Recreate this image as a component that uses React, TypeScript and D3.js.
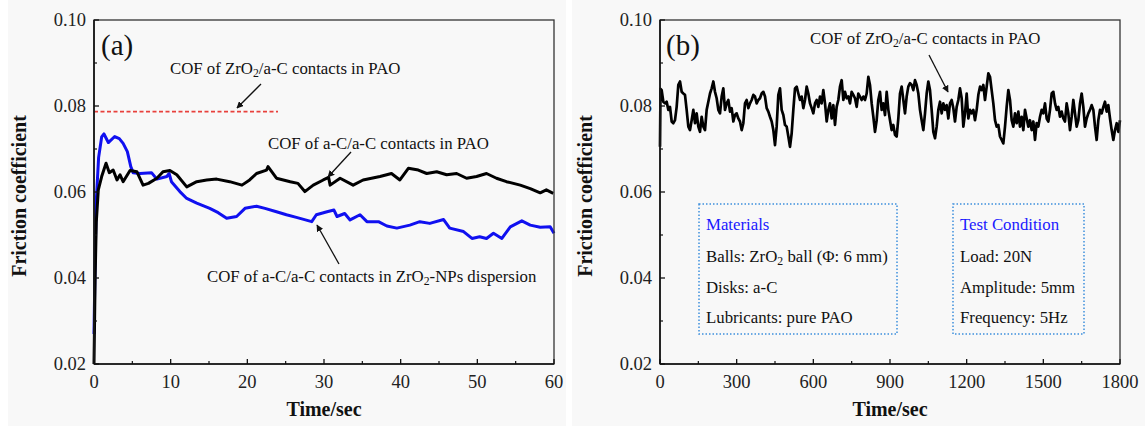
import React, { useRef, useEffect } from 'react';
import * as d3 from 'd3';

// (a) COF of a-C/a-C in ZrO2-NPs dispersion (blue), [time s, cof]
const blueSeries: [number, number][] = [
  [0, 0.027], [0.15, 0.045], [0.3, 0.058], [0.6, 0.068], [1.0, 0.0728], [1.3, 0.0735],
  [1.87, 0.0715], [2.7, 0.0729], [3.3, 0.0724], [3.8, 0.0713], [4.35, 0.0694], [4.8, 0.0659],
  [5.1, 0.0645], [6.0, 0.0643], [7.5, 0.0645], [8.2, 0.063], [9.5, 0.0636], [9.8, 0.0643],
  [10.1, 0.0624], [11.2, 0.0601], [12.1, 0.0585], [13.4, 0.0574], [15.1, 0.0562], [16.2, 0.0552],
  [17.3, 0.0539], [18.6, 0.0543], [19.7, 0.0562], [21.2, 0.0567], [22.3, 0.0562], [23.8, 0.0554],
  [25.1, 0.0547], [26.4, 0.0541], [28.4, 0.0531], [29.0, 0.0547], [30.4, 0.0554], [31.3, 0.0558],
  [31.7, 0.0543], [32.7, 0.055], [33.4, 0.0535], [34.7, 0.0547], [35.6, 0.0531], [37.1, 0.0531],
  [38.2, 0.0521], [39.5, 0.0516], [41.2, 0.0523], [42.5, 0.0531], [43.8, 0.0527], [45.6, 0.0536],
  [46.4, 0.0516], [48.2, 0.0508], [49.3, 0.0492], [50.3, 0.0496], [51.2, 0.0492], [52.1, 0.0504],
  [53.2, 0.0492], [54.3, 0.0519], [55.8, 0.0533], [56.9, 0.0523], [58.2, 0.0518], [59.5, 0.0519],
  [60, 0.0504],
];

// (a) COF of a-C/a-C in PAO (black)
const blackSeries: [number, number][] = [
  [0, 0.02], [0.15, 0.04], [0.3, 0.053], [0.56, 0.0605], [1.0, 0.0636], [1.57, 0.0667],
  [2.0, 0.0645], [2.5, 0.0651], [3.0, 0.0628], [3.4, 0.064], [3.8, 0.0624], [4.7, 0.065],
  [5.6, 0.0647], [6.4, 0.0616], [7.1, 0.062], [8.2, 0.0632], [9.0, 0.0647], [9.9, 0.065],
  [10.8, 0.064], [12.1, 0.0612], [13.4, 0.0624], [14.7, 0.0628], [16.0, 0.063], [17.7, 0.0624],
  [19.3, 0.0616], [20.3, 0.0628], [21.2, 0.0643], [22.5, 0.0651], [22.7, 0.0659], [23.8, 0.0632],
  [25.6, 0.0624], [26.6, 0.062], [27.5, 0.0601], [28.6, 0.0616], [29.9, 0.0628], [30.6, 0.0634],
  [30.8, 0.0616], [32.1, 0.0632], [33.8, 0.0616], [35.1, 0.0628], [37.3, 0.0636], [38.8, 0.0643],
  [39.9, 0.0628], [41.0, 0.0655], [42.3, 0.0651], [43.4, 0.0643], [44.7, 0.0647], [46.0, 0.064],
  [47.3, 0.0643], [48.6, 0.0632], [49.9, 0.0636], [51.2, 0.0643], [52.5, 0.0632], [53.8, 0.0624],
  [55.6, 0.0616], [56.9, 0.0608], [58.2, 0.0598], [59.0, 0.0605], [59.9, 0.0597],
];

// (a) reference level of ZrO2/a-C in PAO (red dashed)
const zro2Level = 0.0787;
const zro2LevelEnd = 24;

// (b) COF of ZrO2/a-C in PAO over 1800 s
const longSeries: [number, number][] = [
  [0, 0.0705], [2, 0.084], [6.5, 0.0837], [13, 0.081], [19.6, 0.0806], [26.1, 0.081], [32.6, 0.0791],
  [39.1, 0.0798], [45.7, 0.0764], [52.2, 0.076], [58.7, 0.0767], [65.2, 0.0798], [71.7, 0.0849],
  [78.3, 0.0857], [84.8, 0.0833], [91.3, 0.0829], [97.8, 0.0826], [104.3, 0.0791], [110.9, 0.0752],
  [117.4, 0.0744], [123.9, 0.0767], [130.4, 0.0791], [137, 0.076], [143.5, 0.0783], [150, 0.0752],
  [156.5, 0.074], [163, 0.0775], [169.6, 0.0752], [176.1, 0.0744], [182.6, 0.0791], [189.1, 0.081],
  [195.7, 0.0829], [202.2, 0.0841], [208.7, 0.0857], [215.2, 0.0833], [221.7, 0.0818], [228.3, 0.0791],
  [234.8, 0.0783], [241.3, 0.0822], [247.8, 0.0841], [254.3, 0.0791], [260.9, 0.0806], [267.4, 0.0814],
  [273.9, 0.0787], [280.4, 0.0795], [287, 0.0764], [293.5, 0.0779], [300, 0.0783], [306.5, 0.0771],
  [313, 0.0764], [319.6, 0.0744], [326.1, 0.076], [332.6, 0.0806], [339.1, 0.0814], [345.7, 0.0795],
  [352.2, 0.0806], [358.7, 0.0814], [365.2, 0.0826], [371.7, 0.0822], [378.3, 0.0806], [384.8, 0.0814],
  [391.3, 0.0818], [397.8, 0.0829], [404.3, 0.0833], [410.9, 0.0822], [417.4, 0.0795], [423.9, 0.0787],
  [430.4, 0.0775], [437, 0.0764], [443.5, 0.0744], [450, 0.0709], [456.5, 0.0752], [463, 0.0826],
  [469.6, 0.0841], [476.1, 0.0791], [482.6, 0.0779], [489.1, 0.0756], [495.7, 0.0752], [502.2, 0.0729],
  [508.7, 0.0705], [515.2, 0.0736], [521.7, 0.0791], [528.3, 0.0841], [534.8, 0.0845], [541.3, 0.0829],
  [547.8, 0.0814], [554.3, 0.0822], [560.9, 0.0795], [567.4, 0.0814], [573.9, 0.0845], [580.4, 0.0829],
  [587, 0.0806], [593.5, 0.0795], [600, 0.0783], [606.5, 0.0806], [613, 0.0814], [619.6, 0.0798],
  [626.1, 0.0822], [632.6, 0.0806], [639.1, 0.0837], [645.7, 0.0806], [652.2, 0.0764], [658.7, 0.0791],
  [665.2, 0.0806], [671.7, 0.0771], [678.3, 0.0802], [684.8, 0.0756], [691.3, 0.0798], [697.8, 0.0814],
  [704.3, 0.0845], [710.9, 0.086], [717.4, 0.0814], [723.9, 0.0833], [730.4, 0.0818], [737, 0.0822],
  [743.5, 0.0806], [750, 0.0833], [756.5, 0.0826], [763, 0.0818], [769.6, 0.0798], [776.1, 0.0829],
  [782.6, 0.0822], [789.1, 0.0814], [795.7, 0.0822], [802.2, 0.0814], [808.7, 0.0829], [815.2, 0.0868],
  [821.7, 0.0849], [828.3, 0.0806], [834.8, 0.0775], [841.3, 0.074], [847.8, 0.0767], [854.3, 0.0814],
  [860.9, 0.0833], [867.4, 0.0791], [873.9, 0.0806], [880.4, 0.0779], [887, 0.0833], [893.5, 0.0791],
  [900, 0.0767], [906.5, 0.0744], [913, 0.0756], [919.6, 0.0733], [926.1, 0.0729], [932.6, 0.0771],
  [939.1, 0.0829], [945.7, 0.0845], [952.2, 0.0814], [958.7, 0.0783], [965.2, 0.0822], [971.7, 0.0845],
  [978.3, 0.0853], [984.8, 0.0849], [991.3, 0.0837], [997.8, 0.086], [1004.3, 0.0849], [1010.9, 0.0829],
  [1017.4, 0.0791], [1023.9, 0.0767], [1030.4, 0.0744], [1037, 0.0783], [1043.5, 0.0829], [1050, 0.0857],
  [1056.5, 0.0837], [1063, 0.0791], [1069.6, 0.074], [1076.1, 0.0725], [1082.6, 0.0752], [1089.1, 0.0791],
  [1095.7, 0.081], [1102.2, 0.0783], [1108.7, 0.0806], [1115.2, 0.0791], [1121.7, 0.0802], [1128.3, 0.0771],
  [1134.8, 0.0806], [1141.3, 0.0814], [1147.8, 0.0795], [1154.3, 0.0764], [1160.9, 0.0798], [1167.4, 0.0814],
  [1173.9, 0.0841], [1180.4, 0.0818], [1187, 0.0752], [1193.5, 0.0783], [1200, 0.0829], [1206.5, 0.0771],
  [1213, 0.0791], [1219.6, 0.0783], [1226.1, 0.0791], [1232.6, 0.0767], [1239.1, 0.0791], [1245.7, 0.0826],
  [1252.2, 0.0845], [1258.7, 0.0837], [1265.2, 0.0849], [1271.7, 0.0814], [1278.3, 0.0845], [1284.8, 0.0876],
  [1291.3, 0.0868], [1297.8, 0.0837], [1304.3, 0.0806], [1310.9, 0.0767], [1317.4, 0.0752], [1323.9, 0.0756],
  [1330.4, 0.0729], [1337, 0.0721], [1343.5, 0.0713], [1350, 0.0752], [1356.5, 0.0798], [1363, 0.0837],
  [1369.6, 0.0814], [1376.1, 0.0767], [1382.6, 0.0752], [1389.1, 0.0783], [1395.7, 0.076], [1402.2, 0.0787],
  [1408.7, 0.0752], [1415.2, 0.0775], [1421.7, 0.0744], [1428.3, 0.0791], [1434.8, 0.0771], [1441.3, 0.0752],
  [1447.8, 0.0767], [1454.3, 0.0744], [1460.9, 0.0764], [1467.4, 0.0721], [1473.9, 0.076], [1480.4, 0.0752],
  [1487, 0.0775], [1493.5, 0.0791], [1500, 0.0783], [1506.5, 0.0806], [1513, 0.0771], [1519.6, 0.0764],
  [1526.1, 0.0791], [1532.6, 0.0829], [1539.1, 0.0833], [1545.7, 0.0806], [1552.2, 0.0791], [1558.7, 0.0798],
  [1565.2, 0.0775], [1571.7, 0.0787], [1578.3, 0.0771], [1584.8, 0.0764], [1591.3, 0.0806], [1597.8, 0.0783],
  [1604.3, 0.0744], [1610.9, 0.0775], [1617.4, 0.0814], [1623.9, 0.0783], [1630.4, 0.0752], [1637, 0.0767],
  [1643.5, 0.0806], [1650, 0.0829], [1656.5, 0.0798], [1663, 0.0752], [1669.6, 0.0771], [1676.1, 0.0783],
  [1682.6, 0.0791], [1689.1, 0.0802], [1695.7, 0.0791], [1702.2, 0.0752], [1708.7, 0.0721], [1715.2, 0.0767],
  [1721.7, 0.0791], [1728.3, 0.0783], [1734.8, 0.0798], [1741.3, 0.081], [1747.8, 0.0787], [1754.3, 0.0802],
  [1760.9, 0.0771], [1767.4, 0.0744], [1773.9, 0.0721], [1780.4, 0.0744], [1787, 0.076], [1793.5, 0.074],
  [1800, 0.0767],
];

const yTicks = [0.02, 0.04, 0.06, 0.08, 0.10];
const xTicksA = [0, 10, 20, 30, 40, 50, 60];
const xTicksB = [0, 300, 600, 900, 1200, 1500, 1800];
const materialsLines = ['Balls: ZrO|2| ball (Φ: 6 mm)', 'Disks: a-C', 'Lubricants: pure PAO'];
const conditionLines = ['Load: 20N', 'Amplitude: 5mm', 'Frequency: 5Hz'];

const FONT = '"Liberation Serif", "Times New Roman", serif';
const W = 1145;
const H = 426;

// text with "|2|" marking a subscript part
function richText(sel: any, str: string) {
  str.split('|').forEach((part, i) => {
    if (!part) return;
    if (i % 2 === 1) {
      sel.append('tspan').attr('baseline-shift', '-25%').attr('font-size', '0.7em').text(part);
    } else {
      sel.append('tspan').text(part);
    }
  });
}

function drawFrame(g: any, x: any, y: any, xTicks: number[], xMinor: number[], xFmt: (d: number) => string) {
  const [x0, x1] = x.range();
  const [y0, y1] = y.range(); // y0 bottom, y1 top

  g.append('rect')
    .attr('x', x0).attr('y', y1).attr('width', x1 - x0).attr('height', y0 - y1)
    .attr('fill', 'none').attr('stroke', '#333').attr('stroke-width', 1.3);
  // heavier left/bottom axis lines
  g.append('line').attr('x1', x0).attr('x2', x0).attr('y1', y1).attr('y2', y0).attr('stroke', '#111').attr('stroke-width', 1.6);
  g.append('line').attr('x1', x0).attr('x2', x1).attr('y1', y0).attr('y2', y0).attr('stroke', '#111').attr('stroke-width', 1.6);

  // inward ticks
  xTicks.forEach(t => {
    g.append('line').attr('x1', x(t)).attr('x2', x(t)).attr('y1', y0).attr('y2', y0 - 5).attr('stroke', '#111').attr('stroke-width', 1.3);
    g.append('text').attr('x', x(t)).attr('y', y0 + 24).attr('text-anchor', 'middle')
      .attr('font-size', 18.5).attr('fill', '#222').text(xFmt(t));
  });
  xMinor.forEach(t => {
    g.append('line').attr('x1', x(t)).attr('x2', x(t)).attr('y1', y0).attr('y2', y0 - 3).attr('stroke', '#111').attr('stroke-width', 1.2);
  });
  yTicks.forEach(v => {
    g.append('line').attr('x1', x0).attr('x2', x0 + 5).attr('y1', y(v)).attr('y2', y(v)).attr('stroke', '#111').attr('stroke-width', 1.3);
    g.append('text').attr('x', x0 - 8).attr('y', y(v)).attr('dy', '0.35em').attr('text-anchor', 'end')
      .attr('font-size', 18.5).attr('fill', '#222').text(v.toFixed(2));
  });
  [0.03, 0.05, 0.07, 0.09].forEach(v => {
    g.append('line').attr('x1', x0).attr('x2', x0 + 3).attr('y1', y(v)).attr('y2', y(v)).attr('stroke', '#111').attr('stroke-width', 1.2);
  });

  g.append('text')
    .attr('transform', `translate(${x0 - 68},${(y0 + y1) / 2 + 4}) rotate(-90)`)
    .attr('text-anchor', 'middle').attr('font-size', 20).attr('font-weight', 'bold').attr('fill', '#111')
    .text('Friction coefficient');
  g.append('text')
    .attr('x', (x0 + x1) / 2).attr('y', y0 + 52).attr('text-anchor', 'middle')
    .attr('font-size', 20).attr('font-weight', 'bold').attr('fill', '#111')
    .text('Time/sec');
}

function arrow(g: any, from: [number, number], to: [number, number]) {
  g.append('line')
    .attr('x1', from[0]).attr('y1', from[1]).attr('x2', to[0]).attr('y2', to[1])
    .attr('stroke', '#111').attr('stroke-width', 1.3).attr('marker-end', 'url(#arrowHead)');
}

const App = () => {
  const svgRef = useRef<SVGSVGElement>(null);

  useEffect(() => {
    const svg = d3.select(svgRef.current);
    svg.selectAll('*').remove();
    svg.attr('font-family', FONT);

    svg.append('defs').append('marker')
      .attr('id', 'arrowHead').attr('viewBox', '0 0 10 10').attr('refX', 9).attr('refY', 5)
      .attr('markerWidth', 7).attr('markerHeight', 7).attr('markerUnits', 'userSpaceOnUse')
      .attr('orient', 'auto')
      .append('path').attr('d', 'M0,0 L10,5 L0,10 z').attr('fill', '#111');

    svg.append('rect').attr('width', W).attr('height', H).attr('fill', '#fff');
    svg.append('rect').attr('x', 8).attr('y', 0).attr('width', 558).attr('height', H).attr('fill', '#f8f8f8');
    svg.append('rect').attr('x', 572).attr('y', 0).attr('width', W - 572).attr('height', H).attr('fill', '#f8f8f8');

    const y = d3.scaleLinear().domain([0.02, 0.10]).range([364, 20]);

    // ---- panel (a)
    const xa = d3.scaleLinear().domain([0, 60]).range([94, 554]);
    const ga = svg.append('g');
    const lineA = d3.line<[number, number]>().x(d => xa(d[0])).y(d => y(d[1]));

    ga.append('line')
      .attr('x1', xa(0)).attr('x2', xa(zro2LevelEnd)).attr('y1', y(zro2Level)).attr('y2', y(zro2Level))
      .attr('stroke', '#e8413c').attr('stroke-width', 1.6).attr('stroke-dasharray', '4 2.5');
    ga.append('path').datum(blueSeries).attr('d', lineA)
      .attr('fill', 'none').attr('stroke', '#1010f0').attr('stroke-width', 3).attr('stroke-linejoin', 'round');
    ga.append('path').datum(blackSeries).attr('d', lineA)
      .attr('fill', 'none').attr('stroke', '#000').attr('stroke-width', 3).attr('stroke-linejoin', 'round');

    drawFrame(ga, xa, y, xTicksA, [5, 15, 25, 35, 45, 55], d => String(d));

    ga.append('text').attr('x', 101).attr('y', 55).attr('font-size', 29).attr('fill', '#111').text('(a)');

    const t1 = ga.append('text').attr('x', 170).attr('y', 74).attr('font-size', 16.8).attr('fill', '#111');
    richText(t1, 'COF of ZrO|2|/a-C contacts in PAO');
    arrow(ga, [261, 84], [237, 108]);

    ga.append('text').attr('x', 268).attr('y', 149).attr('font-size', 16.8).attr('fill', '#111')
      .text('COF of a-C/a-C contacts in PAO');
    arrow(ga, [351, 152], [328, 177]);

    const t3 = ga.append('text').attr('x', 207).attr('y', 282).attr('font-size', 16.8).attr('fill', '#111');
    richText(t3, 'COF of a-C/a-C contacts in ZrO|2|-NPs dispersion');
    arrow(ga, [339, 264], [317, 225]);

    // ---- panel (b)
    const xb = d3.scaleLinear().domain([0, 1800]).range([660, 1120]);
    const gb = svg.append('g');
    const lineB = d3.line<[number, number]>().x(d => xb(d[0])).y(d => y(d[1]));

    gb.append('path').datum(longSeries).attr('d', lineB)
      .attr('fill', 'none').attr('stroke', '#000').attr('stroke-width', 2.7).attr('stroke-linejoin', 'round');

    drawFrame(gb, xb, y, xTicksB, [150, 450, 750, 1050, 1350, 1650], d => String(d));

    gb.append('text').attr('x', 666).attr('y', 55).attr('font-size', 29).attr('fill', '#111').text('(b)');
    const t4 = gb.append('text').attr('x', 810).attr('y', 44).attr('font-size', 16.8).attr('fill', '#111');
    richText(t4, 'COF of ZrO|2|/a-C contacts in PAO');
    arrow(gb, [929, 55], [948, 92]);

    const boxes = [
      { x: 699, w: 198, title: 'Materials', lines: materialsLines },
      { x: 953, w: 131, title: 'Test Condition', lines: conditionLines },
    ];
    boxes.forEach(b => {
      gb.append('rect').attr('x', b.x).attr('y', 204).attr('width', b.w).attr('height', 130)
        .attr('fill', 'none').attr('stroke', '#3d8fdc').attr('stroke-width', 1.5).attr('stroke-dasharray', '1.5 2');
      gb.append('text').attr('x', b.x + 7).attr('y', 230).attr('font-size', 16.8).attr('fill', '#1a1aff').text(b.title);
      b.lines.forEach((l, i) => {
        const t = gb.append('text').attr('x', b.x + 7).attr('y', 262 + i * 30.5).attr('font-size', 16.8).attr('fill', '#111');
        richText(t, l);
      });
    });
  }, []);

  return (
    <svg ref={svgRef} width={W} height={H}
      style={{ position: 'absolute', left: 0, top: 0, display: 'block' }} />
  );
};

export default App;
